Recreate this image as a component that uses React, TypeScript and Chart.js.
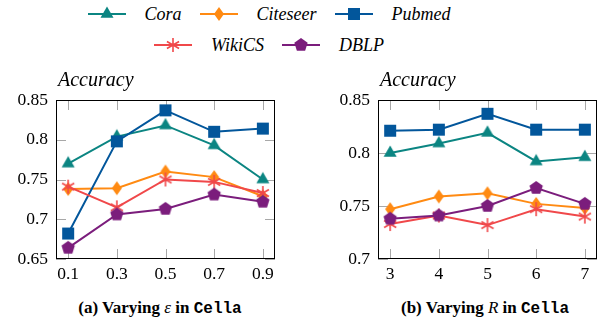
import React, { useEffect, useRef } from "react";
import { Chart, registerables } from "chart.js";
Chart.register(...registerables);

const seriesNames = ["Cora", "Citeseer", "Pubmed", "WikiCS", "DBLP"];
const seriesColors = ["#0b8582", "#ff8a12", "#02569b", "#f0484a", "#7b1d7c"];
const seriesMarkers = ["triangle", "diamond", "square", "asterisk", "pentagon"];

const epsValues = [0.1, 0.3, 0.5, 0.7, 0.9];
const epsCora = [0.77, 0.804, 0.818, 0.793, 0.75];
const epsCiteseer = [0.738, 0.739, 0.76, 0.753, 0.729];
const epsPubmed = [0.682, 0.798, 0.837, 0.81, 0.814];
const epsWikiCS = [0.741, 0.715, 0.75, 0.747, 0.733];
const epsDBLP = [0.664, 0.706, 0.713, 0.731, 0.722];
const epsYTicks = [0.65, 0.7, 0.75, 0.8, 0.85];

const rValues = [3, 4, 5, 6, 7];
const rCora = [0.8, 0.809, 0.819, 0.792, 0.796];
const rCiteseer = [0.747, 0.759, 0.762, 0.752, 0.748];
const rPubmed = [0.821, 0.822, 0.837, 0.822, 0.822];
const rWikiCS = [0.733, 0.741, 0.732, 0.747, 0.74];
const rDBLP = [0.738, 0.741, 0.75, 0.767, 0.752];
const rYTicks = [0.7, 0.75, 0.8, 0.85];

const yTitle = "Accuracy";

const SERIF = '"Liberation Serif", "Times New Roman", "DejaVu Serif", serif';
const MONO = '"Liberation Mono", "DejaVu Sans Mono", monospace';

function drawMarker(ctx: CanvasRenderingContext2D, kind: string, cx: number, cy: number, color: string) {
  ctx.save();
  ctx.fillStyle = color;
  ctx.strokeStyle = color;
  ctx.beginPath();
  if (kind === "triangle") {
    const r = 7.5;
    ctx.moveTo(cx, cy - r);
    ctx.lineTo(cx + r * 0.866, cy + r * 0.5);
    ctx.lineTo(cx - r * 0.866, cy + r * 0.5);
    ctx.closePath();
    ctx.fill();
  } else if (kind === "diamond") {
    ctx.moveTo(cx, cy - 7);
    ctx.lineTo(cx + 5, cy);
    ctx.lineTo(cx, cy + 7);
    ctx.lineTo(cx - 5, cy);
    ctx.closePath();
    ctx.fill();
  } else if (kind === "square") {
    ctx.rect(cx - 6, cy - 6, 12, 12);
    ctx.fill();
  } else if (kind === "asterisk") {
    ctx.lineWidth = 1.6;
    for (let i = 0; i < 3; i++) {
      const a = Math.PI / 2 + (i * Math.PI) / 3;
      const dx = Math.cos(a) * 7;
      const dy = Math.sin(a) * 7;
      ctx.moveTo(cx - dx, cy - dy);
      ctx.lineTo(cx + dx, cy + dy);
    }
    ctx.stroke();
  } else if (kind === "pentagon") {
    const r = 7;
    for (let i = 0; i < 5; i++) {
      const a = -Math.PI / 2 + (i * 2 * Math.PI) / 5;
      const x = cx + Math.cos(a) * r;
      const y = cy + Math.sin(a) * r;
      if (i === 0) ctx.moveTo(x, y);
      else ctx.lineTo(x, y);
    }
    ctx.closePath();
    ctx.fill();
  }
  ctx.restore();
}

function markerCanvas(kind: string, color: string) {
  const c = document.createElement("canvas");
  c.width = 20;
  c.height = 20;
  const ctx = c.getContext("2d")!;
  drawMarker(ctx, kind, 10, 10, color);
  return c;
}

const framePlugin = {
  id: "frame",
  beforeDatasetsDraw(chart: any) {
    const { ctx, chartArea: a, scales } = chart;
    ctx.save();
    ctx.strokeStyle = "#a8a8a8";
    ctx.lineWidth = 1;
    const L = 10;
    ctx.beginPath();
    scales.x.ticks.forEach((t: any) => {
      const x = Math.round(scales.x.getPixelForValue(t.value)) + 0.5;
      ctx.moveTo(x, a.top);
      ctx.lineTo(x, a.top + L);
      ctx.moveTo(x, a.bottom);
      ctx.lineTo(x, a.bottom - L);
    });
    scales.y.ticks.forEach((t: any) => {
      const y = Math.round(scales.y.getPixelForValue(t.value)) + 0.5;
      ctx.moveTo(a.left, y);
      ctx.lineTo(a.left + L, y);
      ctx.moveTo(a.right, y);
      ctx.lineTo(a.right - L, y);
    });
    ctx.stroke();
    ctx.strokeStyle = "#000";
    ctx.strokeRect(Math.round(a.left) + 0.5, Math.round(a.top) + 0.5, Math.round(a.right - a.left) - 1, Math.round(a.bottom - a.top) - 1);
    ctx.restore();
  },
  afterDraw(chart: any) {
    const { ctx, chartArea: a } = chart;
    ctx.save();
    ctx.font = "italic 20px " + SERIF;
    ctx.fillStyle = "#000";
    ctx.textBaseline = "alphabetic";
    ctx.textAlign = "left";
    ctx.fillText(yTitle, a.left + 2, a.top - 14);
    ctx.restore();
  },
};

const fmt = (v: any) => String(parseFloat(Number(v).toFixed(2)));

function makeConfig(xVals: number[], series: number[][], xMin: number, xMax: number, yTicks: number[]): any {
  const markers = seriesMarkers.map((m, i) => markerCanvas(m, seriesColors[i]));
  const tickFont = { family: SERIF, size: 17.5 };
  return {
    type: "line",
    data: {
      datasets: series.map((vals, i) => ({
        label: seriesNames[i],
        data: xVals.map((x, j) => ({ x, y: vals[j] })),
        borderColor: seriesColors[i],
        backgroundColor: seriesColors[i],
        borderWidth: 2,
        pointStyle: markers[i],
        pointRadius: 7,
        clip: false,
        order: 5 - i,
        tension: 0,
      })),
    },
    options: {
      responsive: false,
      animation: false,
      layout: { padding: { top: 40, right: 1, left: 0, bottom: 0 } },
      plugins: { legend: { display: false }, tooltip: { enabled: false } },
      scales: {
        x: {
          type: "linear",
          min: xMin,
          max: xMax,
          afterBuildTicks: (s: any) => {
            s.ticks = xVals.map((v) => ({ value: v }));
          },
          afterFit: (s: any) => {
            s.height = 26;
          },
          ticks: { font: tickFont, color: "#000", padding: 5, callback: fmt, maxRotation: 0, autoSkip: false },
          grid: { display: false, drawTicks: false },
          border: { display: false },
        },
        y: {
          type: "linear",
          min: yTicks[0],
          max: yTicks[yTicks.length - 1],
          afterBuildTicks: (s: any) => {
            s.ticks = yTicks.map((v) => ({ value: v }));
          },
          afterFit: (s: any) => {
            s.width = 56;
          },
          ticks: { font: tickFont, color: "#000", padding: 8, callback: fmt, autoSkip: false },
          grid: { display: false, drawTicks: false },
          border: { display: false },
        },
      },
    },
    plugins: [framePlugin],
  };
}

function LineChart(props: { left: number; xVals: number[]; series: number[][]; xMin: number; xMax: number; yTicks: number[] }) {
  const ref = useRef<HTMLCanvasElement>(null);
  useEffect(() => {
    const chart = new Chart(ref.current!, makeConfig(props.xVals, props.series, props.xMin, props.xMax, props.yTicks));
    return () => chart.destroy();
  }, []);
  return (
    <canvas
      ref={ref}
      width={284}
      height={225}
      style={{ position: "absolute", left: props.left, top: 60, width: 284, height: 225 }}
    />
  );
}

function LegendMark(props: { i: number }) {
  const ref = useRef<HTMLCanvasElement>(null);
  useEffect(() => {
    const ctx = ref.current!.getContext("2d")!;
    ctx.clearRect(0, 0, 38, 20);
    ctx.strokeStyle = seriesColors[props.i];
    ctx.lineWidth = 2;
    ctx.beginPath();
    ctx.moveTo(0, 10);
    ctx.lineTo(38, 10);
    ctx.stroke();
    drawMarker(ctx, seriesMarkers[props.i], 19, 10, seriesColors[props.i]);
  }, []);
  return <canvas ref={ref} width={38} height={20} style={{ width: 38, height: 20, display: "block" }} />;
}

function LegendRow(props: { items: number[]; top: number }) {
  return (
    <div
      style={{
        position: "absolute",
        left: 0,
        top: props.top,
        width: 538,
        height: 24,
        display: "flex",
        justifyContent: "center",
        alignItems: "center",
        gap: 18,
      }}
    >
      {props.items.map((i) => (
        <div key={i} style={{ display: "flex", alignItems: "center" }}>
          <LegendMark i={i} />
          <span style={{ marginLeft: 19, fontFamily: SERIF, fontStyle: "italic", fontSize: 18, color: "#000" }}>{seriesNames[i]}</span>
        </div>
      ))}
    </div>
  );
}

const capStyle: any = {
  position: "absolute",
  top: 298,
  width: 320,
  textAlign: "center",
  fontFamily: SERIF,
  fontWeight: "bold",
  fontSize: 17,
  lineHeight: "20px",
  color: "#000",
  whiteSpace: "nowrap",
};
const monoStyle: any = { fontFamily: MONO, fontWeight: "bold", fontSize: 16 };

export default function App() {
  return (
    <div style={{ position: "absolute", left: 0, top: 0, width: 613, height: 325, background: "#fff", overflow: "hidden" }}>
      <LegendRow items={[0, 1, 2]} top={2} />
      <LegendRow items={[3, 4]} top={33} />
      <LineChart left={0} xVals={epsValues} series={[epsCora, epsCiteseer, epsPubmed, epsWikiCS, epsDBLP]} xMin={0.05} xMax={0.95} yTicks={epsYTicks} />
      <LineChart left={322} xVals={rValues} series={[rCora, rCiteseer, rPubmed, rWikiCS, rDBLP]} xMin={2.75} xMax={7.25} yTicks={rYTicks} />
      <div style={{ ...capStyle, left: 0 }}>
        (a) Varying <span style={{ fontStyle: "italic", fontWeight: "normal" }}>ε</span> in <span style={monoStyle}>Cella</span>
      </div>
      <div style={{ ...capStyle, left: 325 }}>
        (b) Varying <span style={{ fontStyle: "italic", fontWeight: "normal" }}>R</span> in <span style={monoStyle}>Cella</span>
      </div>
    </div>
  );
}
